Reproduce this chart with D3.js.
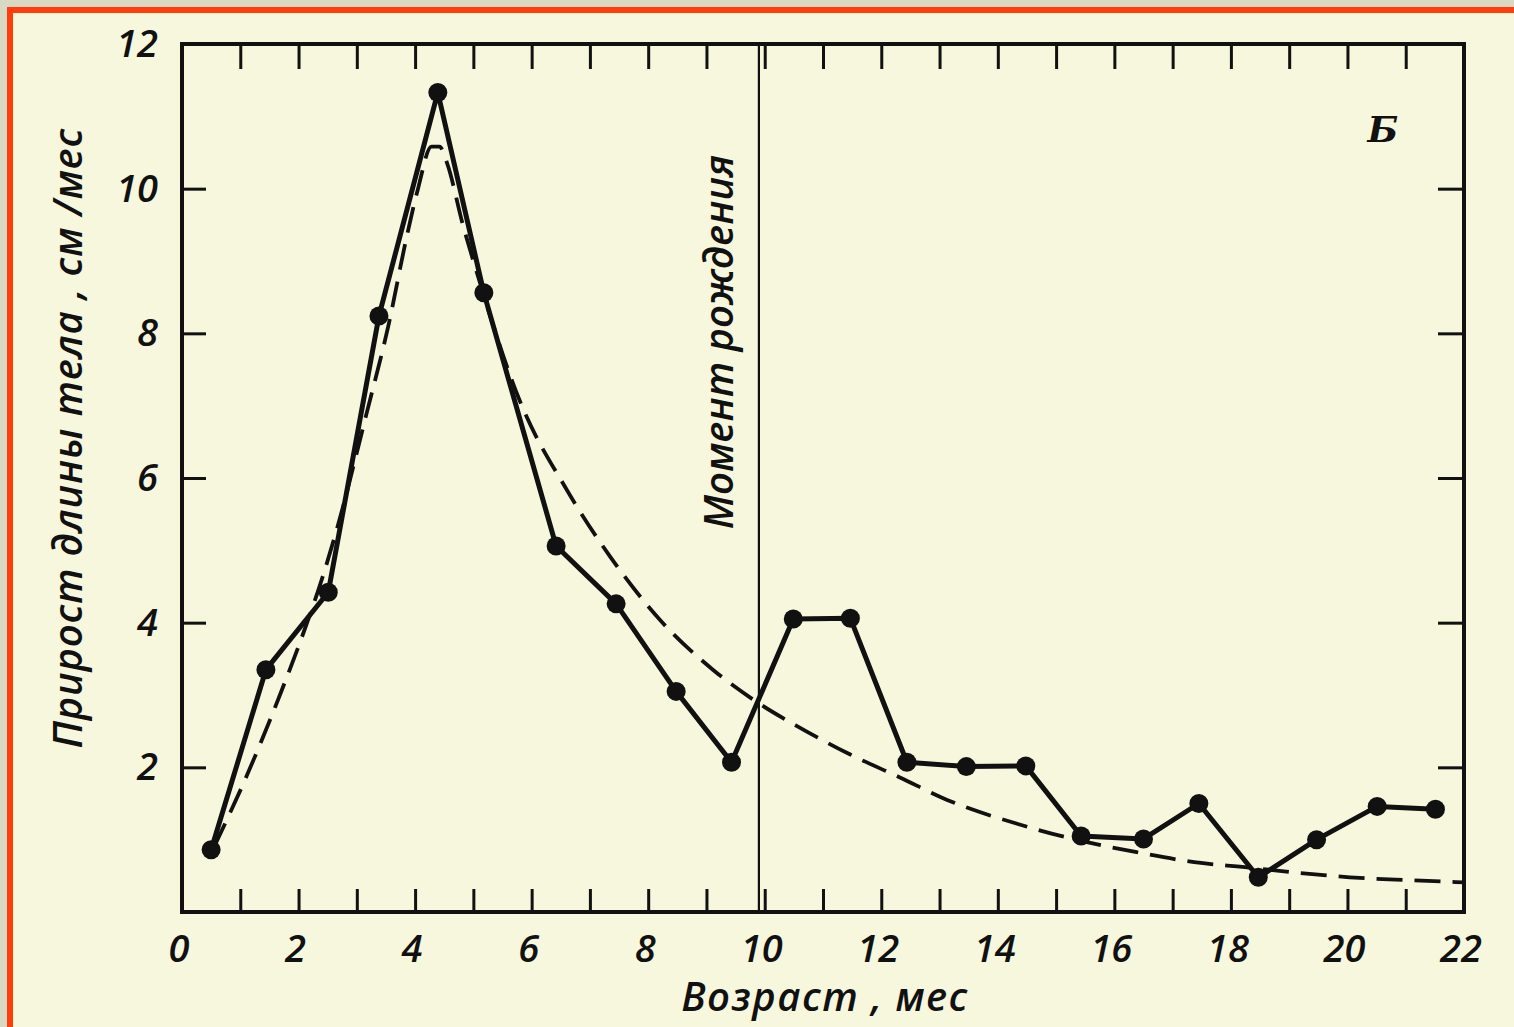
<!DOCTYPE html>
<html lang="ru">
<head>
  <meta charset="UTF-8" />
  <title>Прирост длины тела</title>
  <style>
    html, body { margin: 0; padding: 0; background: #d9d9c3; overflow: hidden; }
    svg { display: block; }
    .lbl { font-family: "Open Sans", "DejaVu Sans", sans-serif; font-style: italic; fill: #111; }
  </style>
</head>
<body>
  <svg width="1514" height="1027"></svg>

  <script src="https://d3js.org/d3.v7.min.js"></script>
  <script>
    // measured growth rate, cm per month, at month midpoints
    const months = [0.5, 1.44, 2.51, 3.38, 4.39, 5.18, 6.42, 7.45, 8.48, 9.43, 10.49,
                    11.47, 12.44, 13.46, 14.48, 15.43, 16.5, 17.45, 18.47, 19.47, 20.51, 21.51];
    const growth = [0.86, 3.35, 4.42, 8.24, 11.33, 8.56, 5.06, 4.26, 3.05, 2.07, 4.05,
                    4.06, 2.07, 2.01, 2.02, 1.05, 1.01, 1.5, 0.48, 1.0, 1.46, 1.42];

    // smoothed (dashed) curve
    const curveX = [0.55, 1.12, 1.68, 2.08, 2.42, 2.66, 3.17, 3.54, 3.86, 4.05, 4.28, 4.42,
                    4.55, 4.82, 5.06, 5.8, 6.6, 7.35, 8.2, 9.11, 9.87, 10.6, 11.46, 12.32,
                    13.13, 14.33, 15.34, 16.36, 17.37, 18.36, 19.05, 20.04, 21.06, 22];
    const curveY = [0.9, 1.9, 3.0, 3.85, 4.65, 5.3, 6.9, 8.1, 9.35, 10.0, 10.58, 10.58,
                    10.35, 9.5, 8.84, 7.06, 5.84, 4.91, 4.04, 3.35, 2.9, 2.55, 2.18, 1.86,
                    1.55, 1.22, 1.0, 0.83, 0.69, 0.61, 0.55, 0.48, 0.44, 0.41];

    const birthMonth = 9.9;
    const xLabels = [0, 2, 4, 6, 8, 10, 12, 14, 16, 18, 20, 22];
    const yLabels = [2, 4, 6, 8, 10, 12];
    const xMinorTicks = d3.range(1, 22);
    const yMinorTicks = [2, 4, 6, 8, 10];

    const svg = d3.select("svg");
    const W = 1514, H = 1027;

    // scanned page frame
    svg.append("rect").attr("width", W).attr("height", H).attr("fill", "#d9d9c3");
    svg.append("rect").attr("x", 7).attr("y", 7).attr("width", W).attr("height", H).attr("fill", "#ff3c0a");
    svg.append("rect").attr("x", 13).attr("y", 13).attr("width", W).attr("height", H).attr("fill", "#f6f7dd");

    const pl = 182, pr = 1464, pt = 44, pb = 912;
    const x = d3.scaleLinear().domain([0, 22]).range([pl, pr]);
    const y = d3.scaleLinear().domain([0, 12]).range([pb, pt]);

    const ink = "#111";

    // inward ticks on all four sides
    function ticks(g) {
      g.select(".domain").remove();
      g.selectAll(".tick line").attr("stroke", ink).attr("stroke-width", 3);
      g.selectAll(".tick text").remove();
    }
    svg.append("g").attr("transform", `translate(0,${pb})`)
      .call(d3.axisBottom(x).tickValues(xMinorTicks).tickSize(-23)).call(ticks);
    svg.append("g").attr("transform", `translate(0,${pt})`)
      .call(d3.axisTop(x).tickValues(xMinorTicks).tickSize(-25)).call(ticks);
    svg.append("g").attr("transform", `translate(${pl},0)`)
      .call(d3.axisLeft(y).tickValues(yMinorTicks).tickSize(-24)).call(ticks);
    svg.append("g").attr("transform", `translate(${pr},0)`)
      .call(d3.axisRight(y).tickValues(yMinorTicks).tickSize(-26)).call(ticks);

    // frame
    svg.append("rect")
      .attr("x", pl).attr("y", pt)
      .attr("width", pr - pl).attr("height", pb - pt)
      .attr("fill", "none").attr("stroke", ink).attr("stroke-width", 4);

    // tick labels
    svg.append("g").selectAll("text").data(xLabels).join("text")
      .attr("class", "lbl")
      .attr("x", d => x(d) - 3).attr("y", pb + 50)
      .attr("text-anchor", "middle")
      .attr("font-size", 38).attr("font-weight", 600)
      .text(d => d);
    svg.append("g").selectAll("text").data(yLabels).join("text")
      .attr("class", "lbl")
      .attr("x", pl - 24).attr("y", d => y(d) + 13)
      .attr("text-anchor", "end")
      .attr("font-size", 38).attr("font-weight", 600)
      .text(d => d);

    // birth line
    svg.append("line")
      .attr("x1", x(birthMonth)).attr("x2", x(birthMonth))
      .attr("y1", pt).attr("y2", pb)
      .attr("stroke", ink).attr("stroke-width", 2.2);

    svg.append("text")
      .attr("class", "lbl")
      .attr("transform", `translate(${x(birthMonth) - 26},${y(7.88)}) rotate(-90)`)
      .attr("text-anchor", "middle")
      .attr("font-size", 40).attr("font-weight", 600)
      .text("Момент рождения");

    // dashed smoothed curve
    const smooth = curveX.map((d, i) => [d, curveY[i]]);
    svg.append("path")
      .datum(smooth)
      .attr("fill", "none")
      .attr("stroke", ink)
      .attr("stroke-width", 3.8)
      .attr("stroke-dasharray", "26,12")
      .attr("d", d3.line().x(d => x(d[0])).y(d => y(d[1])).curve(d3.curveMonotoneX));

    // measured series
    const pts = months.map((d, i) => [d, growth[i]]);
    svg.append("path")
      .datum(pts)
      .attr("fill", "none")
      .attr("stroke", ink)
      .attr("stroke-width", 5)
      .attr("stroke-linejoin", "round")
      .attr("d", d3.line().x(d => x(d[0])).y(d => y(d[1])));

    svg.append("g").selectAll("circle").data(pts).join("circle")
      .attr("cx", d => x(d[0])).attr("cy", d => y(d[1]))
      .attr("r", 9.5).attr("fill", ink);

    // axis titles
    svg.append("text")
      .attr("class", "lbl")
      .attr("x", 825).attr("y", 1011)
      .attr("text-anchor", "middle")
      .attr("font-size", 40).attr("font-weight", 600)
      .attr("letter-spacing", 1.5)
      .text("Возраст , мес");

    svg.append("text")
      .attr("class", "lbl")
      .attr("transform", `translate(82,${y(6.55)}) rotate(-90)`)
      .attr("text-anchor", "middle")
      .attr("font-size", 40).attr("font-weight", 600)
      .attr("letter-spacing", 0.8)
      .text("Прирост длины тела , см /мес");

    svg.append("text")
      .attr("x", 1383).attr("y", 142)
      .attr("text-anchor", "middle")
      .attr("font-family", "DejaVu Serif, serif")
      .attr("font-style", "italic").attr("font-weight", "bold")
      .attr("font-size", 36).attr("fill", ink)
      .text("Б");
  </script>
</body>
</html>
